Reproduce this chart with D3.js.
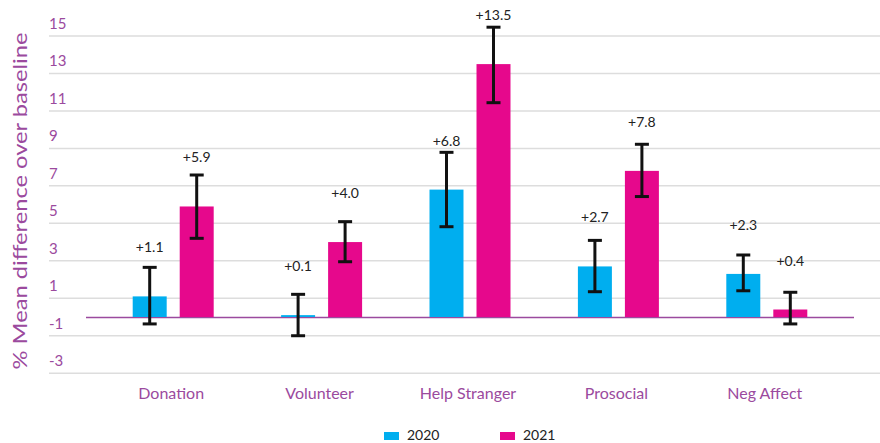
<!DOCTYPE html>
<html><head><meta charset="utf-8">
<script src="https://cdn.jsdelivr.net/npm/d3@7/dist/d3.min.js"></script>
<style>body{margin:0;background:#fff}svg{display:block}</style>
</head><body>
<svg id="c" width="880" height="443"></svg>
<script>
const categories = ["Donation","Volunteer","Help Stranger","Prosocial","Neg Affect"];
const seriesNames = ["2020","2021"];
const values2020 = [1.1, 0.1, 6.8, 2.7, 2.3];
const values2021 = [5.9, 4.0, 13.5, 7.8, 0.4];
const errLow2020 = [-0.37, -1.0, 4.82, 1.35, 1.40];
const errHigh2020 = [2.65, 1.21, 8.79, 4.09, 3.31];
const errLow2021 = [4.2, 2.95, 11.44, 6.43, -0.37];
const errHigh2021 = [7.58, 5.09, 15.47, 9.22, 1.32];
const labels2020 = ["+1.1","+0.1","+6.8","+2.7","+2.3"];
const labels2021 = ["+5.9","+4.0","+13.5","+7.8","+0.4"];
const yTicks = [-3,-1,1,3,5,7,9,11,13,15];

const colors = {"2020":"#00aeef","2021":"#e6088c"};
const purple = "#9b4a9e";
const font = "Lato, 'Open Sans', sans-serif";

const svg = d3.select("#c");
const y = d3.scaleLinear().domain([0,15]).range([317,36]);
const x0 = d3.scaleBand().domain(categories).range([99,841]);
const x1 = d3.scaleBand().domain(seriesNames).range([0, x0.bandwidth()]).paddingInner(0.277).paddingOuter(0.717);

// gridlines
svg.append("g").selectAll("line").data(yTicks).join("line")
  .attr("x1",49).attr("x2",880)
  .attr("y1",d=>y(d)).attr("y2",d=>y(d))
  .attr("stroke","#dddddd").attr("stroke-width",1.5);
svg.append("g").selectAll("text").data(yTicks).join("text")
  .attr("x",49).attr("y",d=>y(d)-7)
  .attr("font-family",font).attr("font-size",15).attr("fill",purple)
  .text(d=>d);

// axis title
svg.append("text")
  .attr("transform","translate(27,201) rotate(-90)")
  .attr("text-anchor","middle")
  .attr("font-family",font).attr("font-size",20).attr("fill",purple)
  .attr("textLength",337).attr("lengthAdjust","spacingAndGlyphs")
  .text("% Mean difference over baseline");

const rows = [];
categories.forEach((c,i)=>{
  rows.push({cat:c, s:"2020", v:values2020[i], lo:errLow2020[i], hi:errHigh2020[i], lab:labels2020[i]});
  rows.push({cat:c, s:"2021", v:values2021[i], lo:errLow2021[i], hi:errHigh2021[i], lab:labels2021[i]});
});
const cx = d=>x0(d.cat)+x1(d.s)+x1.bandwidth()/2;

// zero line
svg.append("line").attr("x1",86).attr("x2",854).attr("y1",y(0)+0.5).attr("y2",y(0)+0.5)
  .attr("stroke",purple).attr("stroke-width",1.5);

svg.append("g").selectAll("rect").data(rows).join("rect")
  .attr("x",d=>x0(d.cat)+x1(d.s)).attr("width",x1.bandwidth())
  .attr("y",d=>Math.min(y(d.v),y(0))).attr("height",d=>Math.abs(y(0)-y(d.v)))
  .attr("fill",d=>colors[d.s]);

// error bars
const eb = svg.append("g").attr("stroke","#111").attr("stroke-width",3);
rows.forEach(d=>{
  const xc = cx(d);
  eb.append("line").attr("x1",xc).attr("x2",xc).attr("y1",y(d.lo)).attr("y2",y(d.hi));
  eb.append("line").attr("x1",xc-7).attr("x2",xc+7).attr("y1",y(d.lo)).attr("y2",y(d.lo));
  eb.append("line").attr("x1",xc-7).attr("x2",xc+7).attr("y1",y(d.hi)).attr("y2",y(d.hi));
});

// value labels
svg.append("g").selectAll("text").data(rows).join("text")
  .attr("x",cx).attr("y",d=>y(d.v)-44)
  .attr("text-anchor","middle").attr("font-family",font).attr("font-size",14).attr("fill","#222")
  .text(d=>d.lab);

// category labels
svg.append("g").selectAll("text").data(categories).join("text")
  .attr("x",d=>x0(d)+x0.bandwidth()/2-2).attr("y",399)
  .attr("text-anchor","middle").attr("font-family",font).attr("font-size",16).attr("fill",purple)
  .text(d=>d);

// legend
const lg = svg.append("g");
const legX = [384,500];
seriesNames.forEach((s,i)=>{
  lg.append("rect").attr("x",legX[i]).attr("y",432).attr("width",15).attr("height",8).attr("fill",colors[s]);
  lg.append("text").attr("x",legX[i]+23).attr("y",440).attr("font-family",font).attr("font-size",14).attr("fill","#222").text(s);
});
</script>
</body></html>
